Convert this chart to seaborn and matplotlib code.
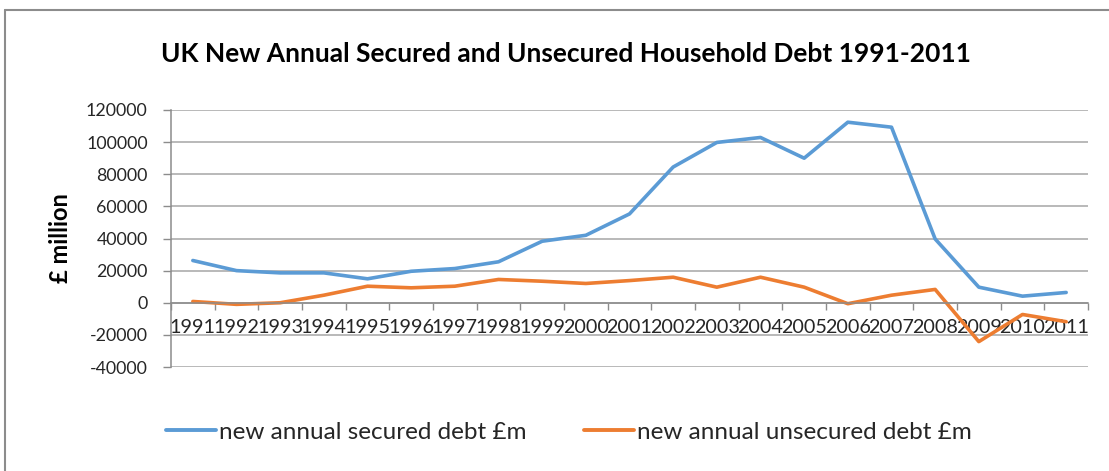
import matplotlib
matplotlib.use("Agg")
import matplotlib.pyplot as plt
from matplotlib.lines import Line2D
from matplotlib.ticker import FixedLocator
import numpy as np
import pandas as pd
import seaborn as sns

years = [str(y) for y in range(1991, 2012)]
secured = [26300, 20000, 18600, 18600, 14900, 19600, 21300, 25500, 38300, 42000,
           55300, 84500, 99800, 102900, 90000, 112400, 109300, 39700, 9700, 4100, 6400]
unsecured = [800, -1000, 0, 4700, 10300, 9300, 10300, 14500, 13400, 12000,
             13800, 15900, 9700, 15900, 9700, -600, 4700, 8300, -24200, -7300, -11800]
series_names = ["new annual secured debt £m", "new annual unsecured debt £m"]
colors = ["#5B9BD5", "#ED7D31"]
title = "UK New Annual Secured and Unsecured Household Debt 1991-2011"
ylabel = "£ million"
yticks = [-40000, -20000, 0, 20000, 40000, 60000, 80000, 100000, 120000]

df = pd.DataFrame({
    "year": years * 2,
    "value": secured + unsecured,
    "series": [series_names[0]] * len(years) + [series_names[1]] * len(years),
})

sns.set_style("white")
plt.rcParams["font.family"] = ["Lato", "DejaVu Sans"]

W, H = 1109, 471
fig = plt.figure(figsize=(W / 100, H / 100), dpi=100)
ax = fig.add_axes([171 / W, 1 - 367 / H, (1088 - 171) / W, (367 - 110) / H])

sns.lineplot(data=df, x="year", y="value", hue="series", palette=colors,
             linewidth=2.6, ax=ax, legend=False, sort=False)

ax.set_xlim(-0.5, len(years) - 0.5)
ax.set_ylim(yticks[0], yticks[-1])
ax.yaxis.set_major_locator(FixedLocator(yticks))
ax.set_yticklabels([str(v) for v in yticks])
ax.set_xticks(range(len(years)))
ax.set_xticklabels(years)
ax.xaxis.set_minor_locator(FixedLocator(np.arange(-0.5, len(years), 1.0)))
ax.set_xlabel("")
ax.set_ylabel("")

ax.grid(axis="y", color="#a6a6a6", linewidth=1.1)
ax.grid(axis="x", visible=False)
for s in ["top", "right"]:
    ax.spines[s].set_visible(False)
ax.spines["bottom"].set_position(("data", 0))
ax.spines["bottom"].set_color("#8c8c8c")
ax.spines["left"].set_color("#8c8c8c")
ax.spines["bottom"].set_linewidth(1.1)
ax.spines["left"].set_linewidth(1.1)
ax.set_axisbelow(True)

ax.tick_params(axis="y", which="major", direction="out", length=5.8, width=1,
               color="#8c8c8c", pad=11, labelsize=12.8, labelcolor="#262626", left=True)
ax.tick_params(axis="x", which="major", length=0, pad=12, labelsize=14.2,
               labelcolor="#262626")
ax.tick_params(axis="x", which="minor", direction="out", length=5, width=1,
               color="#8c8c8c", bottom=True)

fig.text(0.510, 1 - 54 / H, title, ha="center", va="center",
         fontsize=19, fontweight="bold", color="#000000")
fig.text(60 / W, 1 - 238 / H, ylabel, ha="center", va="center", rotation=90,
         fontsize=17, fontweight="bold", color="#000000")

handles = [Line2D([0], [0], color=c, lw=2.8) for c in colors]
fig.legend(handles, series_names, loc="center", bbox_to_anchor=(0.513, 1 - 432 / H),
           ncol=2, frameon=False, fontsize=17.5, handlelength=2.05, handletextpad=0.12,
           columnspacing=2.4)

fig.add_artist(Line2D([5 / W, 1], [1 - 10 / H, 1 - 10 / H], color="#8c8c8c", lw=1.5))
fig.add_artist(Line2D([5 / W, 5 / W], [0, 1 - 10 / H], color="#8c8c8c", lw=1.5))

fig.savefig("out.png", dpi=100, facecolor="white")
